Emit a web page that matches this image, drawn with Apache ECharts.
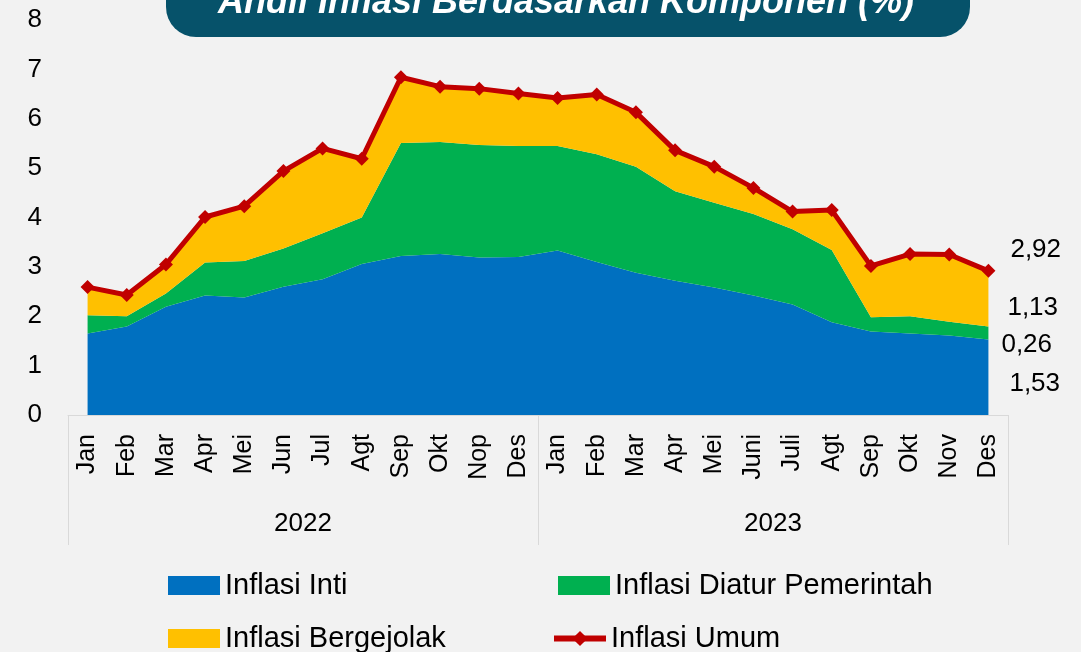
<!DOCTYPE html>
<html>
<head>
<meta charset="utf-8">
<script src="https://cdn.jsdelivr.net/npm/echarts@6/dist/echarts.min.js"></script>
<style>
  html, body { margin: 0; padding: 0; background: #f2f2f2; }
  #chart { width: 1081px; height: 652px; }
</style>
</head>
<body>
<div id="chart"></div>
<script>
// months (2022 + 2023)
const months = ['Jan', 'Feb', 'Mar', 'Apr', 'Mei', 'Jun', 'Jul', 'Agt', 'Sep', 'Okt', 'Nop', 'Des',
                'Jan', 'Feb', 'Mar', 'Apr', 'Mei', 'Juni', 'Juli', 'Agt', 'Sep', 'Okt', 'Nov', 'Des']
const years = ['2022', '2023']

// andil per komponen (%)
const inti = [1.65, 1.79, 2.19, 2.42, 2.38, 2.60, 2.75, 3.06, 3.22, 3.26, 3.19, 3.20,
              3.33, 3.10, 2.88, 2.72, 2.58, 2.42, 2.24, 1.88, 1.69, 1.65, 1.61, 1.53]
const diatur = [0.37, 0.21, 0.27, 0.67, 0.74, 0.77, 0.93, 0.94, 2.29, 2.27, 2.28, 2.25,
                2.12, 2.18, 2.15, 1.81, 1.72, 1.65, 1.52, 1.46, 0.29, 0.35, 0.28, 0.26]
const bergejolak = [0.57, 0.43, 0.59, 0.92, 1.11, 1.57, 1.72, 1.19, 1.33, 1.12, 1.14, 1.06,
                    0.97, 1.21, 1.10, 0.83, 0.73, 0.53, 0.36, 0.81, 1.04, 1.26, 1.36, 1.13]
const umum = [2.59, 2.43, 3.05, 4.01, 4.23, 4.94, 5.40, 5.19, 6.84, 6.65, 6.61, 6.51,
              6.42, 6.49, 6.13, 5.36, 5.03, 4.60, 4.12, 4.15, 3.02, 3.26, 3.25, 2.92]

const FONT = 'Liberation Sans'

// last point gets a value label, excel style (comma decimal)
const withEndLabel = (arr, offset) => arr.map((v, i) => {
  if (i !== arr.length - 1) return v
  return {
    value: v,
    label: {
      show: true,
      position: 'right',
      offset: offset,
      fontFamily: FONT,
      fontSize: 26,
      color: '#000',
      formatter: (p) => p.value.toFixed(2).replace('.', ',')
    }
  }
})

const areaSeries = (name, data, color, offset) => ({
  name: name,
  type: 'line',
  stack: 'komponen',
  symbol: 'circle',
  showSymbol: true,
  symbolSize: 0.01,
  lineStyle: { width: 0 },
  areaStyle: { color: color, opacity: 1 },
  itemStyle: { color: color },
  emphasis: { disabled: true },
  data: withEndLabel(data, offset)
})

// one legend per entry so the 2x2 layout is exact
const legendItem = (item, left, top) => ({
  left: left,
  top: top,
  itemWidth: 52,
  itemHeight: 19,
  textStyle: { fontFamily: FONT, fontSize: 29, color: '#000' },
  data: [item]
})

const chart = echarts.init(document.getElementById('chart'))

chart.setOption({
  backgroundColor: '#f2f2f2',
  animation: false,
  graphic: [
    {
      type: 'rect',
      shape: { x: 166, y: -40, width: 804, height: 77, r: 30 },
      style: { fill: '#06526a' }
    },
    {
      type: 'text',
      x: 566,
      y: 3,
      style: {
        text: 'Andil Inflasi Berdasarkan Komponen (%)',
        fill: '#fff',
        font: 'italic bold 36px "Liberation Sans"',
        textAlign: 'center',
        textVerticalAlign: 'middle'
      }
    }
  ],
  grid: { left: 68, right: 73, top: 20, bottom: 237 },
  legend: [
    legendItem({ name: 'Inflasi Inti', icon: 'rect' }, 163, 566),
    legendItem({ name: 'Inflasi Bergejolak', icon: 'rect' }, 163, 619),
    legendItem({ name: 'Inflasi Diatur Pemerintah', icon: 'rect' }, 553, 566),
    legendItem({ name: 'Inflasi Umum', lineStyle: { width: 6 } }, 546, 619)
  ],
  xAxis: [
    {
      type: 'category',
      data: months,
      boundaryGap: true,
      axisLine: { lineStyle: { color: '#d9d9d9', width: 1 } },
      axisTick: { show: false },
      axisLabel: {
        interval: 0,
        rotate: 90,
        margin: 19,
        fontFamily: FONT,
        fontSize: 25,
        color: '#000'
      }
    },
    {
      type: 'category',
      data: years,
      position: 'bottom',
      boundaryGap: true,
      axisLine: { show: false },
      axisTick: { show: true, interval: 0, length: 130, lineStyle: { color: '#d9d9d9' } },
      axisLabel: { margin: 96, fontFamily: FONT, fontSize: 26, color: '#000' }
    }
  ],
  yAxis: {
    type: 'value',
    min: 0,
    max: 8,
    interval: 1,
    axisLine: { show: false },
    axisTick: { show: false },
    splitLine: { show: false },
    axisLabel: { margin: 26, fontFamily: FONT, fontSize: 26, color: '#000' }
  },
  series: [
    areaSeries('Inflasi Inti', inti, '#0070c0', [16, 44]),
    areaSeries('Inflasi Diatur Pemerintah', diatur, '#00b050', [8, 18]),
    areaSeries('Inflasi Bergejolak', bergejolak, '#ffc000', [14, 37]),
    {
      name: 'Inflasi Umum',
      type: 'line',
      z: 5,
      symbol: 'diamond',
      symbolSize: 14,
      lineStyle: { color: '#c00000', width: 5 },
      itemStyle: { color: '#c00000' },
      emphasis: { disabled: true },
      data: withEndLabel(umum, [10, -21])
    }
  ]
})
</script>
</body>
</html>
